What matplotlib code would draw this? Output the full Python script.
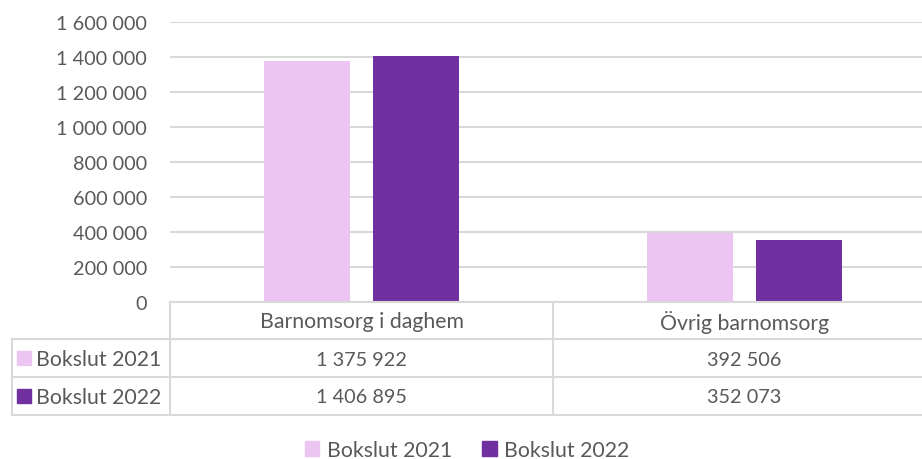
import matplotlib.pyplot as plt
from matplotlib.patches import Patch, Rectangle

categories = ["Barnomsorg i daghem", "Övrig barnomsorg"]
series_names = ["Bokslut 2021", "Bokslut 2022"]
values_2021 = [1375922, 392506]
values_2022 = [1406895, 352073]
yticks = [0, 200000, 400000, 600000, 800000, 1000000, 1200000, 1400000, 1600000]

colors = ["#ECC5F2", "#7030A0"]
text_col = "#595959"
grid_col = "#D9D9D9"

plt.rcParams["font.family"] = ["Lato", "DejaVu Sans"]
fs_num = 14.3
fs_txt = 15.3


def fmt(v):
    return f"{v:,}".replace(",", " ")


W, H = 922, 460
fig = plt.figure(figsize=(W / 100, H / 100), dpi=100)

# pixel geometry
x_left_tab = 12
x_plot = 170
cat_px = 383
y_top = 23.3
y_base = 302.7
y_tab_bot = 416

x0 = -0.5
x1 = x0 + (W - x_plot) / cat_px
x_tab0 = x0 - (x_plot - x_left_tab) / cat_px

ax = fig.add_axes([x_plot / W, (H - y_base) / H, (W - x_plot) / W, (y_base - y_top) / H])
bw = 86 / cat_px
off = (86 + 23) / 2 / cat_px
xs = range(len(categories))
ax.bar([x - off for x in xs], values_2021, bw, color=colors[0], zorder=3)
ax.bar([x + off for x in xs], values_2022, bw, color=colors[1], zorder=3)
ax.set_xlim(x0, x1)
ax.set_ylim(0, 1600000)
ax.set_yticks(yticks)
ax.set_yticklabels([fmt(v) for v in yticks])
ax.set_xticks([])
ax.tick_params(axis="y", length=0, pad=16.5, labelsize=fs_num, labelcolor=text_col)
ax.grid(axis="y", color=grid_col, linewidth=1.5, zorder=0)
for s in ax.spines.values():
    s.set_visible(False)

# data table below the plot
at = fig.add_axes([x_left_tab / W, (H - y_tab_bot) / H, (W - x_left_tab) / W, (y_tab_bot - y_base) / H])
at.set_xlim(x_tab0, x1)
at.set_ylim(3, 0)
at.axis("off")
lw = 1.5
row_px = (y_tab_bot - y_base) / 3
at.plot([x0, x1], [0, 0], color=grid_col, lw=lw, clip_on=False)
for yy in (1, 2, 3):
    at.plot([x_tab0, x1], [yy, yy], color=grid_col, lw=lw, clip_on=False)
at.plot([x_tab0, x_tab0], [1, 3], color=grid_col, lw=lw, clip_on=False)
for i in range(len(categories) + 1):
    at.plot([x0 + i, x0 + i], [0, 3], color=grid_col, lw=lw, clip_on=False)

for i, cat in enumerate(categories):
    at.text(i, 0.52, cat, ha="center", va="center", fontsize=fs_txt, color=text_col)
    at.text(i, 1.52, fmt(values_2021[i]), ha="center", va="center", fontsize=fs_num, color=text_col)
    at.text(i, 2.52, fmt(values_2022[i]), ha="center", va="center", fontsize=fs_num, color=text_col)

sq = 14
for r, (name, c) in enumerate(zip(series_names, colors)):
    at.add_patch(Rectangle((x_tab0 + 5 / cat_px, r + 1.5 - sq / 2 / row_px), sq / cat_px, sq / row_px,
                           color=c, clip_on=False))
    at.text(x_tab0 + 24 / cat_px, r + 1.52, name, ha="left", va="center", fontsize=fs_txt,
            color=text_col)

handles = [Patch(color=c, label=n) for n, c in zip(series_names, colors)]
fig.legend(handles=handles, loc="center", bbox_to_anchor=(0.5 + 6 / W, (H - 451) / H), ncol=2,
           frameon=False, fontsize=fs_txt, labelcolor=text_col, handlelength=0.7,
           handleheight=0.7, handletextpad=0.35, columnspacing=1.4)

fig.savefig("out.png", dpi=100)
